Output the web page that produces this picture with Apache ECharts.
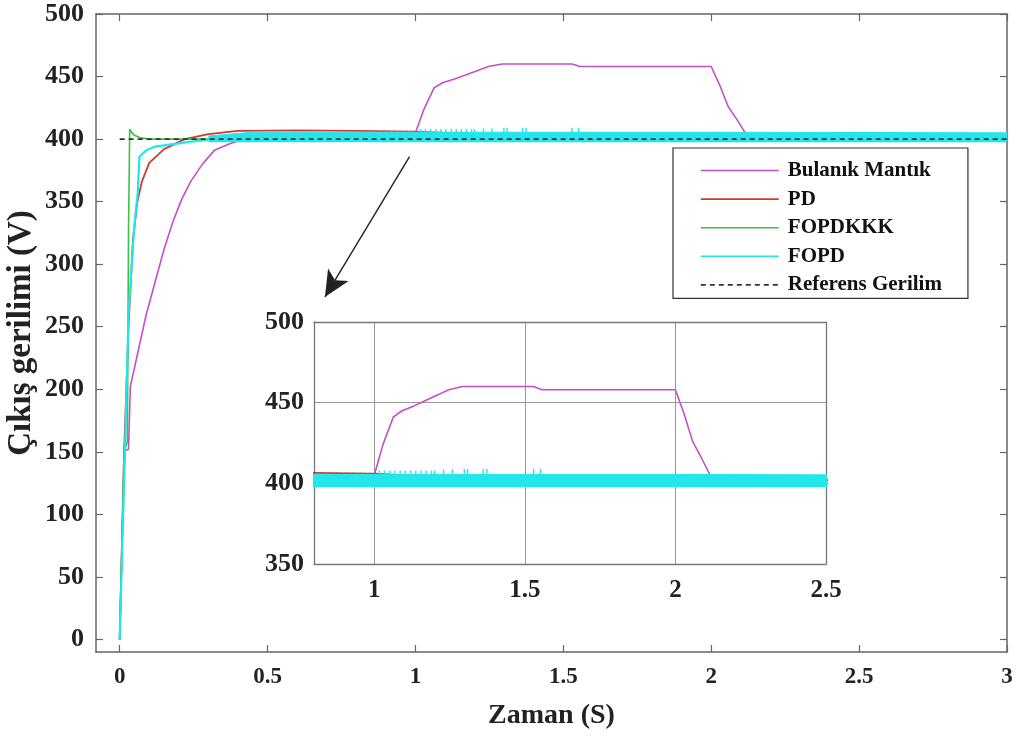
<!DOCTYPE html>
<html>
<head>
<meta charset="utf-8">
<script src="https://cdn.jsdelivr.net/npm/echarts@6/dist/echarts.min.js"></script>
<style>
html,body{margin:0;padding:0;background:#fff;}
#chart{width:1016px;height:738px;}
</style>
</head>
<body>
<div id="chart"></div>
<script>
// ---------- data ----------
const seriesNames = ['Bulanık Mantık', 'PD', 'FOPDKKK', 'FOPD', 'Referens Gerilim'];

const tFuzzy = [0, 0.015, 0.018, 0.03, 0.036, 0.061, 0.09, 0.12, 0.15, 0.18, 0.21, 0.24, 0.28, 0.32, 0.37, 0.42, 0.5, 0.7, 0.9, 1.0, 1.029, 1.063, 1.092, 1.132, 1.167, 1.213, 1.247, 1.293, 1.5, 1.529, 1.557, 2.0, 2.029, 2.057, 2.086, 2.115, 2.2, 3.0];
const vFuzzy = [0, 140, 151, 152, 202, 229, 260, 286, 312, 334, 352, 366, 380, 391, 396, 400, 402, 403, 404, 405, 424, 441, 445, 448, 451, 455, 458, 460, 460, 460, 458, 458, 443, 426, 416, 405, 402, 402];

const tPD = [0, 0.015, 0.03, 0.045, 0.06, 0.075, 0.1, 0.15, 0.22, 0.3, 0.4, 0.6, 0.8, 1.0, 1.2, 1.3, 3.0];
const vPD = [0, 150, 250, 320, 350, 366, 381, 392, 400, 404, 406.5, 407, 406.5, 406, 404, 402, 402];

const tFOPDKKK = [0, 0.015, 0.026, 0.03, 0.034, 0.042, 0.05, 0.07, 0.1, 3.0];
const vFOPDKKK = [0, 150, 158, 330, 408, 405, 403, 401, 400, 400];

const tFOPDRise = [0, 0.018, 0.03, 0.049, 0.061, 0.067, 0.09, 0.12, 0.18, 0.24, 0.3];
const vFOPDRise = [0, 151, 260, 329, 357, 386, 391, 394, 396, 398, 399.5];

// settled FOPD response: a ripple band between a bottom edge and these top edges
const tFOPDBand = [0.3, 0.45, 2.0, 2.001, 3.0];
const vFOPDBandTop = [402.5, 405.5, 405.5, 405, 405];
const fopdBandBottom = 397.5;

const spikeBase = 404;
const spikeT = [0.84, 0.86, 0.88, 0.9, 0.92, 0.94, 0.96, 0.98, 1.017, 1.034, 1.052, 1.069, 1.086, 1.103, 1.121, 1.138, 1.155, 1.172, 1.19, 1.2, 1.23, 1.259, 1.299, 1.31, 1.362, 1.374, 1.529, 1.552];
const spikeTop = [406, 406, 406, 406, 406, 406, 406, 406, 408, 408, 408, 408, 408, 408, 408, 408, 408, 408, 408, 408, 408.5, 408.5, 409, 409, 409, 409, 409, 409];

const tRef = [0, 3];
const vRef = [400, 400];

const mainXTicks = [0, 0.5, 1, 1.5, 2, 2.5, 3];
const mainYTicks = [0, 50, 100, 150, 200, 250, 300, 350, 400, 450, 500];
const insetXTicks = [1, 1.5, 2, 2.5];

// ---------- build ----------
const zip = (t, v) => t.map((x, i) => [x, v[i]]);
const spikeData = spikeT.flatMap((t, i) => [[t, spikeBase], [t, spikeTop[i]], [t, '-']]);

const FONT = '"Liberation Serif", "Times New Roman", serif';
const colors = {
  fuzzy: '#c450c8',
  pd: '#d2382c',
  kkk: '#3cc43c',
  fopd: '#22e6ec',
  ref: '#333333'
};
const axisGray = '#666';

function line(name, data, color, width, xi, yi, z, extra) {
  return Object.assign({
    type: 'line', name: name, data: data,
    xAxisIndex: xi, yAxisIndex: yi,
    showSymbol: false, symbol: 'none',
    lineStyle: { color: color, width: width },
    itemStyle: { color: color },
    z: z, animation: false, silent: true, clip: true
  }, extra || {});
}

function seriesFor(xi, yi, main) {
  return [
    line('Bulanık Mantık', zip(tFuzzy, vFuzzy), colors.fuzzy, 1.6, xi, yi, 3),
    line('PD', zip(tPD, vPD), colors.pd, 1.8, xi, yi, 3),
    line('FOPDKKK', zip(tFOPDKKK, vFOPDKKK), colors.kkk, 1.6, xi, yi, 4),
    line('FOPD', zip(tFOPDRise, vFOPDRise), colors.fopd, 2.2, xi, yi, 5),
    line('FOPD', zip(tFOPDBand, vFOPDBandTop), colors.fopd, 1, xi, yi, 5,
      { areaStyle: { color: colors.fopd, opacity: 1, origin: fopdBandBottom } }),
    line('FOPD', spikeData, colors.fopd, 1.4, xi, yi, 5, { connectNulls: false }),
    line('Referens Gerilim', zip(tRef, vRef), colors.ref, 1.6, xi, yi, main ? 6 : 2,
      { lineStyle: { color: colors.ref, width: 1.6, type: [5, 4] } })
  ];
}

const mainSeries = seriesFor(0, 0, true);
// arrow annotation pointing from the main curve to the zoomed inset (data space)
mainSeries[6].markLine = {
  silent: true,
  animation: false,
  symbol: ['none', 'arrow'],
  symbolSize: [18, 26],
  label: { show: false },
  lineStyle: { color: '#222', width: 1.4, type: 'solid' },
  data: [[{ coord: [0.98, 386] }, { coord: [0.694, 273.8] }]]
};
const insetSeries = seriesFor(2, 2, false);

const labelStyle = (size) => ({ fontFamily: FONT, fontWeight: 'bold', fontSize: size, color: '#222' });

const option = {
  backgroundColor: '#fff',
  animation: false,
  grid: [
    { left: 96, top: 14, right: 9, bottom: 86, containLabel: false, outerBoundsMode: 'none' },
    { left: 314, top: 322, width: 512, height: 242, show: true, backgroundColor: '#fff', borderWidth: 0, containLabel: false, outerBoundsMode: 'none' }
  ],
  legend: {
    data: seriesNames,
    orient: 'vertical',
    left: 673, top: 148,
    itemWidth: 78, itemHeight: 14, itemGap: 7.6,
    padding: [12, 26, 3, 27],
    backgroundColor: '#fff',
    borderColor: '#333', borderWidth: 1.2,
    lineStyle: { width: 1.6 },
    itemStyle: { opacity: 0 },
    textStyle: Object.assign(labelStyle(21), { color: '#111', padding: [0, 0, 0, 4] }),
    selectedMode: false,
    z: 10
  },
  xAxis: [
    {
      gridIndex: 0, type: 'value', min: -0.08, max: 3, position: 'bottom',
      axisLine: { show: true, onZero: false, lineStyle: { color: axisGray, width: 1.5 } },
      axisTick: { show: true, inside: true, length: 7, customValues: mainXTicks, lineStyle: { color: axisGray, width: 1.2 } },
      axisLabel: Object.assign(labelStyle(23), { customValues: mainXTicks, margin: 14 }),
      splitLine: { show: false },
      name: 'Zaman (S)', nameLocation: 'middle', nameGap: 50,
      nameTextStyle: labelStyle(28)
    },
    {
      gridIndex: 0, type: 'value', min: -0.08, max: 3, position: 'top',
      axisLine: { show: true, onZero: false, lineStyle: { color: axisGray, width: 1.5 } },
      axisTick: { show: true, inside: true, length: 7, customValues: mainXTicks, lineStyle: { color: axisGray, width: 1.2 } },
      axisLabel: { show: false },
      splitLine: { show: false }
    },
    {
      gridIndex: 1, type: 'value', min: 0.8, max: 2.5, position: 'bottom',
      axisLine: { show: true, onZero: false, lineStyle: { color: '#777', width: 1.3 } },
      axisTick: { show: false, customValues: insetXTicks },
      axisLabel: Object.assign(labelStyle(25), { customValues: insetXTicks, margin: 14 }),
      splitLine: { show: true, lineStyle: { color: '#999', width: 1 } }
    },
    {
      gridIndex: 1, type: 'value', min: 0.8, max: 2.5, position: 'top',
      axisLine: { show: true, onZero: false, lineStyle: { color: '#777', width: 1.3 } },
      axisTick: { show: false },
      axisLabel: { show: false },
      splitLine: { show: false }
    }
  ],
  yAxis: [
    {
      gridIndex: 0, type: 'value', min: -10, max: 500, position: 'left',
      axisLine: { show: true, onZero: false, lineStyle: { color: axisGray, width: 1.5 } },
      axisTick: { show: true, inside: true, length: 7, customValues: mainYTicks, lineStyle: { color: axisGray, width: 1.2 } },
      axisLabel: Object.assign(labelStyle(26), { customValues: mainYTicks, margin: 12 }),
      splitLine: { show: false },
      name: 'Çıkış gerilimi (V)', nameLocation: 'middle', nameGap: 58, nameMoveOverlap: false,
      nameTextStyle: labelStyle(33)
    },
    {
      gridIndex: 0, type: 'value', min: -10, max: 500, position: 'right',
      axisLine: { show: true, onZero: false, lineStyle: { color: axisGray, width: 1.5 } },
      axisTick: { show: true, inside: true, length: 7, customValues: mainYTicks, lineStyle: { color: axisGray, width: 1.2 } },
      axisLabel: { show: false },
      splitLine: { show: false }
    },
    {
      gridIndex: 1, type: 'value', min: 350, max: 500, interval: 50, position: 'left',
      axisLine: { show: true, onZero: false, lineStyle: { color: '#777', width: 1.3 } },
      axisTick: { show: false },
      axisLabel: Object.assign(labelStyle(26), { margin: 10 }),
      splitLine: { show: true, lineStyle: { color: '#999', width: 1 } }
    },
    {
      gridIndex: 1, type: 'value', min: 350, max: 500, interval: 50, position: 'right',
      axisLine: { show: true, onZero: false, lineStyle: { color: '#777', width: 1.3 } },
      axisTick: { show: false },
      axisLabel: { show: false },
      splitLine: { show: false }
    }
  ],
  series: mainSeries.concat(insetSeries)
};

const chart = echarts.init(document.getElementById('chart'), null, { renderer: 'canvas' });
chart.setOption(option);
</script>
</body>
</html>
